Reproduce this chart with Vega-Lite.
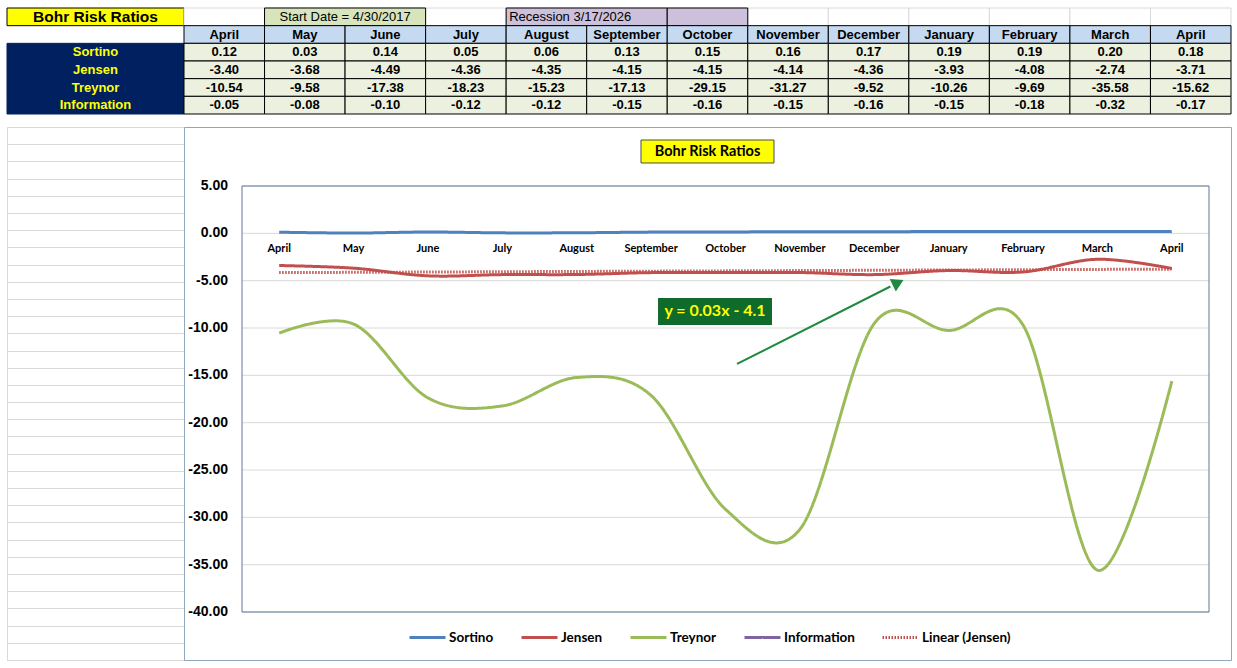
{
  "$schema": "https://vega.github.io/schema/vega-lite/v6.json",
  "padding": {"left": 6, "top": 7, "right": 0, "bottom": 0},
  "background": "#ffffff",
  "spacing": 11,
  "config": {
    "locale": {"number": {"decimal": ".", "thousands": ",", "grouping": [3], "currency": ["$", ""], "minus": "-"}},
    "view": {"stroke": null},
    "concat": {"spacing": 0}
  },
  "datasets": {
    "ratios": [
      {"i": 1, "month": "April", "series": "Sortino", "value": 0.12},
      {"i": 2, "month": "May", "series": "Sortino", "value": 0.03},
      {"i": 3, "month": "June", "series": "Sortino", "value": 0.14},
      {"i": 4, "month": "July", "series": "Sortino", "value": 0.05},
      {"i": 5, "month": "August", "series": "Sortino", "value": 0.06},
      {"i": 6, "month": "September", "series": "Sortino", "value": 0.13},
      {"i": 7, "month": "October", "series": "Sortino", "value": 0.15},
      {"i": 8, "month": "November", "series": "Sortino", "value": 0.16},
      {"i": 9, "month": "December", "series": "Sortino", "value": 0.17},
      {"i": 10, "month": "January", "series": "Sortino", "value": 0.19},
      {"i": 11, "month": "February", "series": "Sortino", "value": 0.19},
      {"i": 12, "month": "March", "series": "Sortino", "value": 0.20},
      {"i": 13, "month": "April", "series": "Sortino", "value": 0.18},
      {"i": 1, "month": "April", "series": "Jensen", "value": -3.40},
      {"i": 2, "month": "May", "series": "Jensen", "value": -3.68},
      {"i": 3, "month": "June", "series": "Jensen", "value": -4.49},
      {"i": 4, "month": "July", "series": "Jensen", "value": -4.36},
      {"i": 5, "month": "August", "series": "Jensen", "value": -4.35},
      {"i": 6, "month": "September", "series": "Jensen", "value": -4.15},
      {"i": 7, "month": "October", "series": "Jensen", "value": -4.15},
      {"i": 8, "month": "November", "series": "Jensen", "value": -4.14},
      {"i": 9, "month": "December", "series": "Jensen", "value": -4.36},
      {"i": 10, "month": "January", "series": "Jensen", "value": -3.93},
      {"i": 11, "month": "February", "series": "Jensen", "value": -4.08},
      {"i": 12, "month": "March", "series": "Jensen", "value": -2.74},
      {"i": 13, "month": "April", "series": "Jensen", "value": -3.71},
      {"i": 1, "month": "April", "series": "Treynor", "value": -10.54},
      {"i": 2, "month": "May", "series": "Treynor", "value": -9.58},
      {"i": 3, "month": "June", "series": "Treynor", "value": -17.38},
      {"i": 4, "month": "July", "series": "Treynor", "value": -18.23},
      {"i": 5, "month": "August", "series": "Treynor", "value": -15.23},
      {"i": 6, "month": "September", "series": "Treynor", "value": -17.13},
      {"i": 7, "month": "October", "series": "Treynor", "value": -29.15},
      {"i": 8, "month": "November", "series": "Treynor", "value": -31.27},
      {"i": 9, "month": "December", "series": "Treynor", "value": -9.52},
      {"i": 10, "month": "January", "series": "Treynor", "value": -10.26},
      {"i": 11, "month": "February", "series": "Treynor", "value": -9.69},
      {"i": 12, "month": "March", "series": "Treynor", "value": -35.58},
      {"i": 13, "month": "April", "series": "Treynor", "value": -15.62},
      {"i": 1, "month": "April", "series": "Information", "value": -0.05},
      {"i": 2, "month": "May", "series": "Information", "value": -0.08},
      {"i": 3, "month": "June", "series": "Information", "value": -0.10},
      {"i": 4, "month": "July", "series": "Information", "value": -0.12},
      {"i": 5, "month": "August", "series": "Information", "value": -0.12},
      {"i": 6, "month": "September", "series": "Information", "value": -0.15},
      {"i": 7, "month": "October", "series": "Information", "value": -0.16},
      {"i": 8, "month": "November", "series": "Information", "value": -0.15},
      {"i": 9, "month": "December", "series": "Information", "value": -0.16},
      {"i": 10, "month": "January", "series": "Information", "value": -0.15},
      {"i": 11, "month": "February", "series": "Information", "value": -0.18},
      {"i": 12, "month": "March", "series": "Information", "value": -0.32},
      {"i": 13, "month": "April", "series": "Information", "value": -0.17}
    ],
    "trend": [
      {"i": 1, "series": "Linear (Jensen)", "value": -4.15},
      {"i": 13, "series": "Linear (Jensen)", "value": -3.78}
    ],
    "boxes": [
      {"text": "Start Date = 4/30/2017", "from": 2, "to": 3, "kind": "start"},
      {"text": "Recession  3/17/2026", "from": 5, "to": 6, "kind": "recession"},
      {"text": "", "from": 7, "to": 7, "kind": "recession"}
    ]
  },
  "vconcat": [
    {
      "spacing": 0,
      "bounds": "flush",
      "hconcat": [
        {
          "width": 177,
          "height": 106,
          "layer": [
            {
              "data": {"values": [{"row": "top", "label": "Bohr Risk Ratios"}]},
              "mark": {"type": "rect", "fill": "#FFFF00", "stroke": "#000000", "strokeWidth": 1},
              "encoding": {
                "y": {"field": "row", "type": "nominal", "scale": {"type": "band", "domain": ["top", "header", "Sortino", "Jensen", "Treynor", "Information"], "paddingInner": 0, "paddingOuter": 0}, "axis": null}
              }
            },
            {
              "data": {"values": [{"row": "top", "label": "Bohr Risk Ratios"}]},
              "mark": {"type": "text", "font": "Liberation Sans", "fontWeight": "bold", "fontSize": 15.5, "color": "#000000"},
              "encoding": {
                "y": {"field": "row", "type": "nominal", "axis": null},
                "text": {"field": "label"}
              }
            },
            {
              "data": {"name": "ratios"},
              "transform": [{"filter": "datum.i == 1"}],
              "mark": {"type": "rect", "fill": "#002060", "stroke": "#002060", "strokeWidth": 1},
              "encoding": {"y": {"field": "series", "type": "nominal", "axis": null}}
            },
            {
              "data": {"name": "ratios"},
              "transform": [{"filter": "datum.i == 1"}],
              "mark": {"type": "text", "font": "Liberation Sans", "fontWeight": "bold", "fontSize": 13, "color": "#FFFF00"},
              "encoding": {
                "y": {"field": "series", "type": "nominal", "axis": null},
                "text": {"field": "series"}
              }
            }
          ]
        },
        {
          "width": 1047,
          "height": 106,
          "layer": [
            {
              "data": {"name": "ratios"},
              "transform": [{"filter": "datum.series == 'Sortino'"}],
              "mark": {"type": "rect", "fill": "#FFFFFF", "stroke": "#D9D9D9", "strokeWidth": 1},
              "encoding": {
                "x": {"field": "i", "type": "ordinal", "scale": {"type": "band", "domain": [1, 2, 3, 4, 5, 6, 7, 8, 9, 10, 11, 12, 13], "paddingInner": 0, "paddingOuter": 0}, "axis": null},
                "y": {"datum": "top", "type": "nominal", "scale": {"type": "band", "domain": ["top", "header", "Sortino", "Jensen", "Treynor", "Information"], "paddingInner": 0, "paddingOuter": 0}, "axis": null}
              }
            },
            {
              "data": {"name": "boxes"},
              "mark": {"type": "rect", "stroke": "#000000", "strokeWidth": 1},
              "encoding": {
                "x": {"field": "from", "type": "ordinal", "bandPosition": 0, "axis": null},
                "x2": {"field": "to", "bandPosition": 1},
                "y": {"datum": "top", "type": "nominal", "axis": null},
                "fill": {"field": "kind", "type": "nominal", "scale": {"domain": ["start", "recession"], "range": ["#D8E4BC", "#CCC0DA"]}, "legend": null}
              }
            },
            {
              "data": {"name": "boxes"},
              "transform": [{"filter": "datum.kind == 'start'"}],
              "mark": {"type": "text", "font": "Liberation Sans", "fontSize": 13, "color": "#000000", "align": "center"},
              "encoding": {
                "x": {"field": "from", "type": "ordinal", "bandPosition": 1, "axis": null},
                "y": {"datum": "top", "type": "nominal", "axis": null},
                "text": {"field": "text"}
              }
            },
            {
              "data": {"name": "boxes"},
              "transform": [{"filter": "datum.kind == 'recession'"}],
              "mark": {"type": "text", "font": "Liberation Sans", "fontSize": 13, "color": "#000000", "align": "left", "dx": 3},
              "encoding": {
                "x": {"field": "from", "type": "ordinal", "bandPosition": 0, "axis": null},
                "y": {"datum": "top", "type": "nominal", "axis": null},
                "text": {"field": "text"}
              }
            },
            {
              "data": {"name": "ratios"},
              "transform": [{"filter": "datum.series == 'Sortino'"}],
              "mark": {"type": "rect", "fill": "#C5D9F1", "stroke": "#000000", "strokeWidth": 1},
              "encoding": {
                "x": {"field": "i", "type": "ordinal", "axis": null},
                "y": {"datum": "header", "type": "nominal", "axis": null}
              }
            },
            {
              "data": {"name": "ratios"},
              "transform": [{"filter": "datum.series == 'Sortino'"}],
              "mark": {"type": "text", "font": "Liberation Sans", "fontWeight": "bold", "fontSize": 13, "color": "#000000"},
              "encoding": {
                "x": {"field": "i", "type": "ordinal", "axis": null},
                "y": {"datum": "header", "type": "nominal", "axis": null},
                "text": {"field": "month"}
              }
            },
            {
              "data": {"name": "ratios"},
              "mark": {"type": "rect", "fill": "#EBF1DE", "stroke": "#000000", "strokeWidth": 1},
              "encoding": {
                "x": {"field": "i", "type": "ordinal", "axis": null},
                "y": {"field": "series", "type": "nominal", "axis": null}
              }
            },
            {
              "data": {"name": "ratios"},
              "mark": {"type": "text", "font": "Liberation Sans", "fontWeight": "bold", "fontSize": 13, "color": "#000000"},
              "encoding": {
                "x": {"field": "i", "type": "ordinal", "axis": null},
                "y": {"field": "series", "type": "nominal", "axis": null},
                "text": {"field": "value", "type": "quantitative", "format": ".2f"}
              }
            }
          ]
        }
      ]
    },
    {
      "spacing": 0,
      "bounds": "flush",
      "hconcat": [
        {
          "width": 177,
          "height": 533,
          "view": {"stroke": "#D9D9D9"},
          "data": {"values": []},
          "mark": "rule",
          "encoding": {
            "y": {"field": "r", "type": "quantitative", "scale": {"domain": [0, 31], "nice": false, "zero": false},
              "axis": {"grid": true, "gridColor": "#D9D9D9", "labels": false, "ticks": false, "domain": false, "title": null,
                "values": [0, 1, 2, 3, 4, 5, 6, 7, 8, 9, 10, 11, 12, 13, 14, 15, 16, 17, 18, 19, 20, 21, 22, 23, 24, 25, 26, 27, 28, 29, 30, 31]}}
          }
        },
        {
          "width": 1047,
          "height": 533,
          "view": {"stroke": "#8EA8C0", "strokeWidth": 1},
          "layer": [
            {
              "data": {"values": [{"tick": -40}, {"tick": -35}, {"tick": -30}, {"tick": -25}, {"tick": -20}, {"tick": -15}, {"tick": -10}, {"tick": -5}, {"tick": 0}, {"tick": 5}]},
              "layer": [
                {
                  "mark": {"type": "rule", "stroke": "#D9D9D9", "strokeWidth": 1},
                  "encoding": {
                    "x": {"datum": 0.5, "type": "quantitative", "scale": {"domain": [0.5, 13.5], "range": [58, 1025], "nice": false, "zero": false}, "axis": null},
                    "x2": {"datum": 13.5},
                    "y": {"field": "tick", "type": "quantitative", "scale": {"domain": [-40, 5], "range": [485, 59], "nice": false, "zero": false}, "axis": null}
                  }
                },
                {
                  "mark": {"type": "text", "font": "Liberation Sans", "fontWeight": "bold", "fontSize": 14, "color": "#000000", "align": "right", "baseline": "middle", "dx": -14},
                  "encoding": {
                    "x": {"datum": 0.5, "type": "quantitative", "axis": null},
                    "y": {"field": "tick", "type": "quantitative", "axis": null},
                    "text": {"field": "tick", "type": "quantitative", "format": ".2f"}
                  }
                }
              ]
            },
            {
              "data": {"values": [{"frame": "plot area"}]},
              "mark": {"type": "rect", "fill": "transparent", "stroke": "#5B7B99", "strokeWidth": 1},
              "encoding": {
                "x": {"datum": 0.5, "type": "quantitative", "axis": null},
                "x2": {"datum": 13.5},
                "y": {"datum": 5, "type": "quantitative", "axis": null},
                "y2": {"datum": -40}
              }
            },
            {
              "data": {"name": "ratios"},
              "transform": [{"filter": {"field": "series", "oneOf": ["Sortino", "Jensen", "Treynor"]}}],
              "mark": {"type": "line", "interpolate": "cardinal"},
              "encoding": {
                "x": {"field": "i", "type": "quantitative", "axis": null},
                "y": {"field": "value", "type": "quantitative", "axis": null},
                "color": {"field": "series", "type": "nominal",
                  "scale": {"domain": ["Sortino", "Jensen", "Treynor", "Information", "Linear (Jensen)"], "range": ["#4F81BD", "#C0504D", "#9BBB59", "#8064A2", "#C0504D"]},
                  "legend": {"orient": "none", "legendX": 401, "legendY": 610, "direction": "horizontal", "columns": 5, "title": null, "symbolType": "stroke", "symbolSize": 1296, "labelFont": "Lato", "labelFontWeight": "bold", "labelFontSize": 13.5, "labelColor": "#000000", "columnPadding": 21, "labelOffset": 2}},
                "strokeDash": {"field": "series", "type": "nominal",
                  "scale": {"domain": ["Sortino", "Jensen", "Treynor", "Information", "Linear (Jensen)"], "range": [[1, 0], [1, 0], [1, 0], [1, 0], [1.5, 1.5]]}},
                "strokeWidth": {"field": "series", "type": "nominal",
                  "scale": {"domain": ["Sortino", "Jensen", "Treynor", "Information", "Linear (Jensen)"], "range": [3, 3, 3, 3, 1.5]}}
              }
            },
            {
              "data": {"name": "trend"},
              "mark": {"type": "line"},
              "encoding": {
                "x": {"field": "i", "type": "quantitative", "axis": null},
                "y": {"field": "value", "type": "quantitative", "axis": null},
                "color": {"field": "series", "type": "nominal"},
                "strokeDash": {"field": "series", "type": "nominal"},
                "strokeWidth": {"field": "series", "type": "nominal"}
              }
            },
            {
              "data": {"name": "ratios"},
              "transform": [{"filter": "datum.series == 'Sortino'"}],
              "mark": {"type": "text", "font": "Lato", "fontWeight": "bold", "fontSize": 11, "dy": 16, "color": "#000000"},
              "encoding": {
                "x": {"field": "i", "type": "quantitative", "axis": null},
                "y": {"datum": 0, "type": "quantitative", "axis": null},
                "text": {"field": "month"}
              }
            },
            {
              "data": {"values": [{"label": "Bohr Risk Ratios"}]},
              "mark": {"type": "rect", "fill": "#FFFF00", "stroke": "#4D4D4D", "strokeWidth": 1},
              "encoding": {
                "x": {"datum": 5.864, "type": "quantitative", "axis": null},
                "x2": {"datum": 7.652},
                "y": {"datum": 9.859, "type": "quantitative", "axis": null},
                "y2": {"datum": 7.43}
              }
            },
            {
              "data": {"values": [{"label": "Bohr Risk Ratios"}]},
              "mark": {"type": "text", "font": "Lato", "fontWeight": "bold", "fontSize": 14.5, "color": "#000000"},
              "encoding": {
                "x": {"datum": 6.758, "type": "quantitative", "axis": null},
                "y": {"datum": 8.644, "type": "quantitative", "axis": null},
                "text": {"field": "label"}
              }
            },
            {
              "data": {"values": [{"label": "y = 0.03x - 4.1"}]},
              "mark": {"type": "rect", "fill": "#0E6B2B"},
              "encoding": {
                "x": {"datum": 6.093, "type": "quantitative", "axis": null},
                "x2": {"datum": 7.625},
                "y": {"datum": -6.831, "type": "quantitative", "axis": null},
                "y2": {"datum": -9.683}
              }
            },
            {
              "data": {"values": [{"label": "y = 0.03x - 4.1"}]},
              "mark": {"type": "text", "font": "Lato", "fontWeight": "bold", "fontSize": 16, "color": "#FFFF00"},
              "encoding": {
                "x": {"datum": 6.859, "type": "quantitative", "axis": null},
                "y": {"datum": -8.257, "type": "quantitative", "axis": null},
                "text": {"field": "label"}
              }
            },
            {
              "data": {"values": [{"label": "arrow"}]},
              "mark": {"type": "rule", "stroke": "#1F8A3F", "strokeWidth": 2},
              "encoding": {
                "x": {"datum": 7.155, "type": "quantitative", "axis": null},
                "x2": {"datum": 9.216},
                "y": {"datum": -13.80, "type": "quantitative", "axis": null},
                "y2": {"datum": -5.616}
              }
            },
            {
              "data": {"values": [{"label": "arrow head"}]},
              "mark": {"type": "point", "shape": "triangle-up", "filled": true, "color": "#1F8A3F", "opacity": 1, "size": 190, "angle": 64},
              "encoding": {
                "x": {"datum": 9.321, "type": "quantitative", "axis": null},
                "y": {"datum": -5.215, "type": "quantitative", "axis": null}
              }
            }
          ]
        }
      ]
    }
  ]
}
